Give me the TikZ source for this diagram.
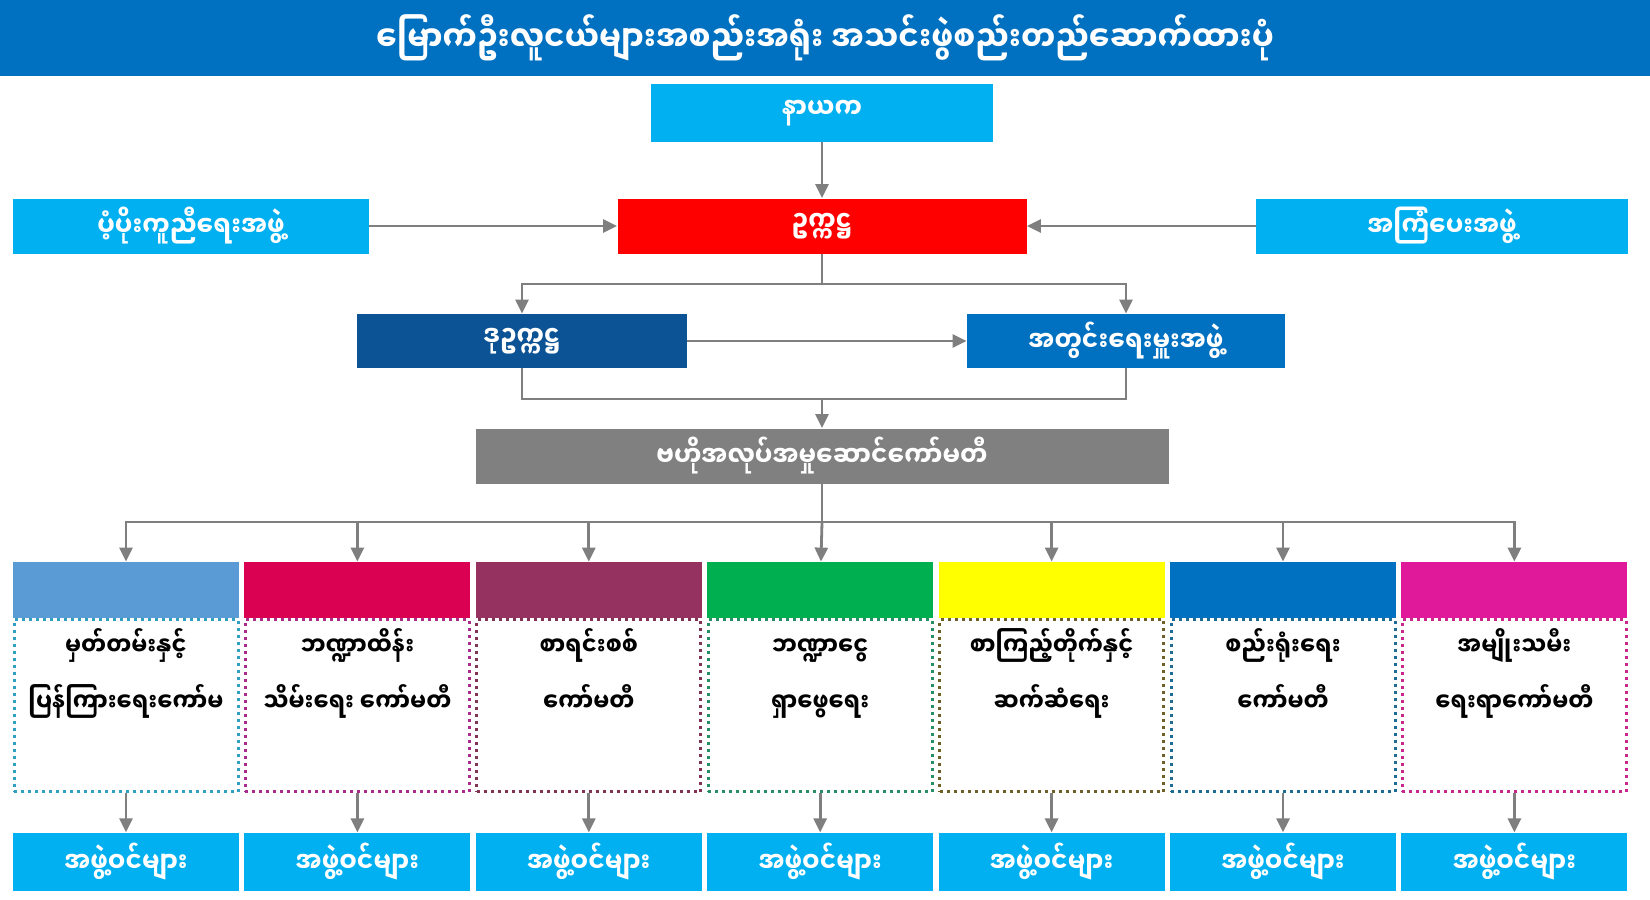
\documentclass[tikz,border=0pt]{standalone}
\usepackage{fontspec}
\newfontfamily\mmfont[Script=Myanmar, FakeStretch=0.88]{Noto Sans Myanmar UI}
\usetikzlibrary{positioning,arrows.meta}

\definecolor{barblue}{RGB}{0,112,192}
\definecolor{skyblue}{RGB}{0,176,240}
\definecolor{chairred}{RGB}{255,0,0}
\definecolor{vicenavy}{RGB}{11,83,148}
\definecolor{cgrey}{RGB}{128,128,128}
\definecolor{linegrey}{RGB}{127,127,127}
% committee colours (head fill / dotted border)
\definecolor{cA}{RGB}{91,155,213}   \definecolor{cAb}{RGB}{49,159,192}
\definecolor{cB}{RGB}{218,0,82}     \definecolor{cBb}{RGB}{168,44,140}
\definecolor{cC}{RGB}{150,50,95}    \definecolor{cCb}{RGB}{130,50,82}
\definecolor{cD}{RGB}{0,176,80}     \definecolor{cDb}{RGB}{40,140,100}
\definecolor{cE}{RGB}{255,255,0}    \definecolor{cEb}{RGB}{110,96,40}
\definecolor{cF}{RGB}{0,112,192}    \definecolor{cFb}{RGB}{30,108,150}
\definecolor{cG}{RGB}{224,24,154}   \definecolor{cGb}{RGB}{200,40,140}

\begin{document}
\begin{tikzpicture}[
  x=0.5pt, y=-0.5pt,
  node distance=2.3pt,
  box/.style={inner sep=0pt, minimum height=27.5pt, text=white,
              font=\mmfont\bfseries\fontsize{14}{16}\selectfont},
  titlebar/.style={fill=barblue, inner sep=0pt, minimum width=825pt,
                   minimum height=38pt, text=white,
                   font=\mmfont\bfseries\fontsize{17.5}{20}\selectfont},
  head/.style={inner sep=0pt, minimum width=113pt, minimum height=28pt},
  panel/.style={draw, dotted, line width=1.5pt, inner sep=0pt,
                minimum width=112pt, minimum height=86pt},
  ptxt/.style={inner sep=0pt, align=center, text height=39pt, text depth=4pt,
               font=\mmfont\bfseries\fontsize{12.8}{28}\selectfont},
  member/.style={box, fill=skyblue, minimum width=113pt, minimum height=29pt},
  link/.style={draw=linegrey, line width=1.4pt},
  arr/.style={link, -{Triangle[length=7pt, width=6.5pt]}}
]
  \useasboundingbox (0,0) rectangle (1650,900);

  % Title
  \node[titlebar] (title) at (825,38)
    {မြောက်ဦးလူငယ်များအစည်းအရုံး အသင်းဖွဲစည်းတည်ဆောက်ထားပုံ};

  % Leadership
  \node[box, fill=skyblue, minimum width=171pt, minimum height=29pt] (patron) at (822,113) {နာယက};
  \node[box, fill=chairred, minimum width=204.5pt] (chair) at (822,226) {ဥက္ကဋ္ဌ};
  \node[box, fill=skyblue, minimum width=178pt] (support) at (191,226) {ပံ့ပိုးကူညီရေးအဖွဲ့};
  \node[box, fill=skyblue, minimum width=186pt] (advise) at (1442,226) {အကြံပေးအဖွဲ့};
  \node[box, fill=vicenavy, minimum width=165pt, minimum height=27pt] (vice) at (522,341) {ဒုဥက္ကဋ္ဌ};
  \node[box, fill=barblue, minimum width=159pt, minimum height=27pt] (secr) at (1126,341) {အတွင်းရေးမှူးအဖွဲ့};
  \node[box, fill=cgrey, minimum width=346.5pt] (central) at (822,456) {ဗဟိုအလုပ်အမှုဆောင်ကော်မတီ};

  \coordinate (split) at (822,284);
  \coordinate (join) at (822,399);
  \coordinate (bus) at (822,522);

  % Committee heads
  \node[head, fill=cA] (h1) at (126,590) {};
  \node[head, fill=cB, right=of h1] (h2) {};
  \node[head, fill=cC, right=of h2] (h3) {};
  \node[head, fill=cD, right=of h3] (h4) {};
  \node[head, fill=cE, right=of h4] (h5) {};
  \node[head, fill=cF, right=of h5] (h6) {};
  \node[head, fill=cG, right=of h6] (h7) {};

  % Committee panels
  \node[panel, draw=cAb, below=0pt of h1] (p1) {};
  \node[panel, draw=cBb, below=0pt of h2] (p2) {};
  \node[panel, draw=cCb, below=0pt of h3] (p3) {};
  \node[panel, draw=cDb, below=0pt of h4] (p4) {};
  \node[panel, draw=cEb, below=0pt of h5] (p5) {};
  \node[panel, draw=cFb, below=0pt of h6] (p6) {};
  \node[panel, draw=cGb, below=0pt of h7] (p7) {};
  \node[ptxt, below=7.5pt of p1.north] (t1) {မှတ်တမ်းနှင့်\\ပြန်ကြားရေးကော်မ};
  \node[ptxt, below=7.5pt of p2.north] (t2) {ဘဏ္ဍာထိန်း\\သိမ်းရေး ကော်မတီ};
  \node[ptxt, below=7.5pt of p3.north] (t3) {စာရင်းစစ်\\ကော်မတီ};
  \node[ptxt, below=7.5pt of p4.north] (t4) {ဘဏ္ဍာငွေ\\ရှာဖွေရေး};
  \node[ptxt, below=7.5pt of p5.north] (t5) {စာကြည့်တိုက်နှင့်\\ဆက်ဆံရေး};
  \node[ptxt, below=7.5pt of p6.north] (t6) {စည်းရုံးရေး\\ကော်မတီ};
  \node[ptxt, below=7.5pt of p7.north] (t7) {အမျိုးသမီး\\ရေးရာကော်မတီ};

  % Members
  \node[member, below=19.5pt of p1] (m1) {အဖွဲ့ဝင်များ};
  \node[member, below=19.5pt of p2] (m2) {အဖွဲ့ဝင်များ};
  \node[member, below=19.5pt of p3] (m3) {အဖွဲ့ဝင်များ};
  \node[member, below=19.5pt of p4] (m4) {အဖွဲ့ဝင်များ};
  \node[member, below=19.5pt of p5] (m5) {အဖွဲ့ဝင်များ};
  \node[member, below=19.5pt of p6] (m6) {အဖွဲ့ဝင်များ};
  \node[member, below=19.5pt of p7] (m7) {အဖွဲ့ဝင်များ};

  % Connectors
  \draw[arr] (patron) -- (chair);
  \draw[arr] (support) -- (chair);
  \draw[arr] (advise) -- (chair);
  \draw[link] (chair) -- (split);
  \draw[arr] (split) -| (vice);
  \draw[arr] (split) -| (secr);
  \draw[arr] (vice) -- (secr);
  \draw[link] (vice) |- (join);
  \draw[link] (secr) |- (join);
  \draw[arr] (join) -- (central);
  \draw[link] (central) -- (bus);
  \draw[arr] (bus) -| (h1);
  \draw[arr] (bus) -| (h2);
  \draw[arr] (bus) -| (h3);
  \draw[arr] (bus) -- (h4);
  \draw[arr] (bus) -| (h5);
  \draw[arr] (bus) -| (h6);
  \draw[arr] (bus) -| (h7);
  \draw[arr] (p1) -- (m1);
  \draw[arr] (p2) -- (m2);
  \draw[arr] (p3) -- (m3);
  \draw[arr] (p4) -- (m4);
  \draw[arr] (p5) -- (m5);
  \draw[arr] (p6) -- (m6);
  \draw[arr] (p7) -- (m7);
\end{tikzpicture}
\end{document}
